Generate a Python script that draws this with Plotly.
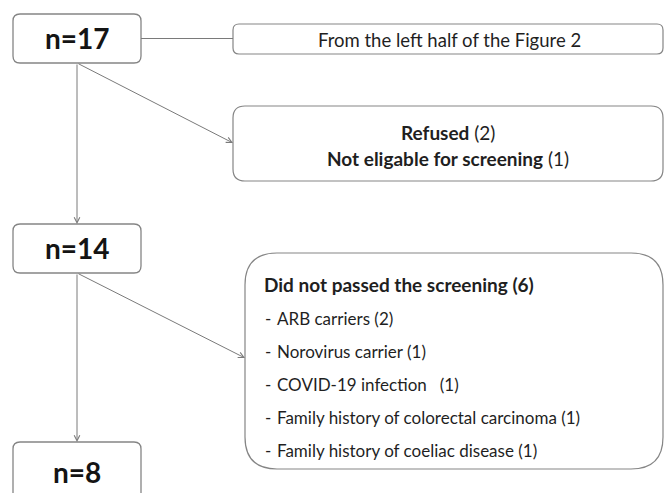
import plotly.graph_objects as go

# ---- data ----
stage_labels = ["n=17", "n=14", "n=8"]
note_text = "From the left half of the Figure 2"
excluded_1 = [("Refused", 2), ("Not eligable for screening", 1)]
excluded_2_title = ("Did not passed the screening", 6)
excluded_2_items = ["ARB carriers (2)", "Norovirus carrier (1)", "COVID-19 infection   (1)",
                    "Family history of colorectal carcinoma (1)", "Family history of coeliac disease (1)"]

# ---- layout (pixel positions) ----
W, H = 664, 493
stage_boxes = [(13, 14, 141, 63), (13, 224, 141, 273), (13, 442, 141, 505)]
note_box = (233, 24, 663, 54)
excl1_box = (233, 106, 663, 181)
excl2_box = (245, 253, 663, 469)
BORDER = "#858585"
LINE = "#7a7a7a"
FONT = "Lato"
TXT = "#1f1f1f"

def rrect(box, r):
    x0, y0, x1, y1 = box
    return (f"M{x0+r},{y0} L{x1-r},{y0} Q{x1},{y0} {x1},{y0+r} L{x1},{y1-r} "
            f"Q{x1},{y1} {x1-r},{y1} L{x0+r},{y1} Q{x0},{y1} {x0},{y1-r} "
            f"L{x0},{y0+r} Q{x0},{y0} {x0+r},{y0} Z")

fig = go.Figure()
fig.add_trace(go.Scatter(x=[0, W], y=[0, H], mode="markers", marker=dict(opacity=0),
                         hoverinfo="skip", showlegend=False))

shapes = []
for b in stage_boxes:
    shapes.append(dict(type="path", path=rrect(b, 7), line=dict(color=BORDER, width=1.3),
                       fillcolor="white", xref="x", yref="y"))
shapes.append(dict(type="path", path=rrect(note_box, 6), line=dict(color=BORDER, width=1.2),
                   fillcolor="white", xref="x", yref="y"))
shapes.append(dict(type="path", path=rrect(excl1_box, 12), line=dict(color=BORDER, width=1.2),
                   fillcolor="white", xref="x", yref="y"))
shapes.append(dict(type="path", path=rrect(excl2_box, 32), line=dict(color=BORDER, width=1.2),
                   fillcolor="white", xref="x", yref="y"))
cx = (stage_boxes[0][0] + stage_boxes[0][2]) / 2
cy0 = (stage_boxes[0][1] + stage_boxes[0][3]) / 2
shapes.append(dict(type="line", x0=stage_boxes[0][2], y0=cy0, x1=note_box[0], y1=cy0,
                   line=dict(color=LINE, width=1), xref="x", yref="y"))

annotations = []
stage_text_y = [38, 248, 472]
for lab, b, yc in zip(stage_labels, stage_boxes, stage_text_y):
    annotations.append(dict(x=(b[0] + b[2]) / 2, y=yc, text=f"<b>{lab}</b>", showarrow=False,
                            font=dict(family=FONT, size=28, color="#141414"),
                            xref="x", yref="y", xanchor="center", yanchor="middle"))
annotations.append(dict(x=(note_box[0] + note_box[2]) / 2 + 1, y=(note_box[1] + note_box[3]) / 2 + 1,
                        text=note_text, showarrow=False,
                        font=dict(family=FONT, size=18.5, color=TXT),
                        xref="x", yref="y", xanchor="center", yanchor="middle"))
ex1_y = [132, 158]
for (lab, n), y in zip(excluded_1, ex1_y):
    annotations.append(dict(x=(excl1_box[0] + excl1_box[2]) / 2, y=y,
                            text=f"<b>{lab}</b> ({n})", showarrow=False,
                            font=dict(family=FONT, size=19, color=TXT),
                            xref="x", yref="y", xanchor="center", yanchor="middle"))
annotations.append(dict(x=262, y=284, text=f"<b>{excluded_2_title[0]} ({excluded_2_title[1]})</b>",
                        showarrow=False, font=dict(family=FONT, size=19, color=TXT),
                        xref="x", yref="y", xanchor="left", yanchor="middle"))
item_y0, item_dy = 318, 33
for i, it in enumerate(excluded_2_items):
    y = item_y0 + i * item_dy
    annotations.append(dict(x=263, y=y, text="-", showarrow=False,
                            font=dict(family=FONT, size=17, color=TXT),
                            xref="x", yref="y", xanchor="left", yanchor="middle"))
    annotations.append(dict(x=275, y=y, text=it, showarrow=False,
                            font=dict(family=FONT, size=17, color=TXT),
                            xref="x", yref="y", xanchor="left", yanchor="middle"))

def arrow(x0, y0, x1, y1):
    return dict(x=x1, y=y1, ax=x0, ay=y0, xref="x", yref="y", axref="x", ayref="y",
                text="", showarrow=True, arrowhead=5, arrowsize=1.1, arrowwidth=1,
                arrowcolor=LINE, standoff=0, startstandoff=0)

b0, b1, b2 = stage_boxes
annotations.append(arrow(cx, b0[3], cx, b1[1]))
annotations.append(arrow(cx, b0[3], excl1_box[0], 143))
annotations.append(arrow(cx, b1[3], cx, b2[1]))
annotations.append(arrow(cx, b1[3], excl2_box[0], 358))

fig.update_layout(
    width=W, height=H, margin=dict(l=0, r=0, t=0, b=0),
    paper_bgcolor="white", plot_bgcolor="white",
    xaxis=dict(range=[0, W], visible=False, fixedrange=True),
    yaxis=dict(range=[H, 0], visible=False, fixedrange=True),
    shapes=shapes, annotations=annotations, showlegend=False,
)
fig.write_html("out.html", config={"displayModeBar": False},
               post_script="document.body.style.margin='0';document.body.style.overflow='hidden';")
